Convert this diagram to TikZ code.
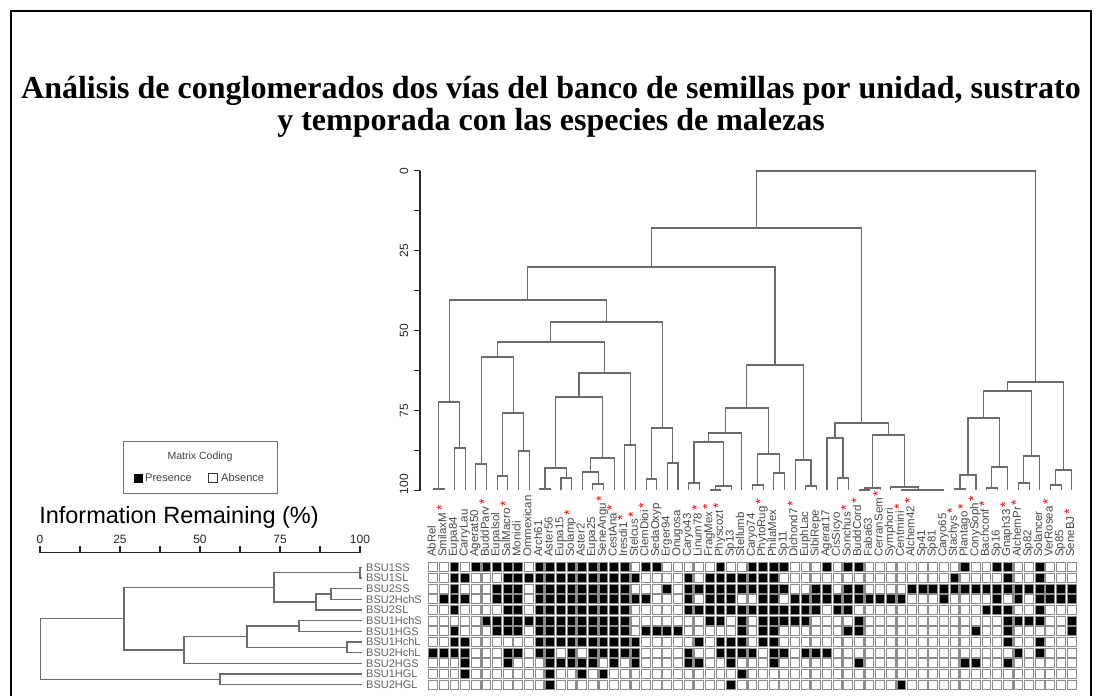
\documentclass[tikz,border=0pt]{standalone}
\usepackage{fontspec}
\setmainfont{Liberation Serif}
\setsansfont{Liberation Sans}
\usetikzlibrary{calc}

\tikzset{
    dend/.style={draw=black!58, line width=1.1pt},
    axisline/.style={draw=black!85, line width=1.2pt},
    cell/.style={draw=black!45, line width=1.1pt, fill=white},
    spp/.style={rotate=90, anchor=mid west, inner sep=0pt, text=black!72, font=\sffamily\fontsize{11.5}{12}\selectfont},
    rowlab/.style={anchor=west, inner sep=0pt, text=black!62, font=\sffamily\fontsize{11}{11}\selectfont},
    ticklab/.style={inner sep=0pt, text=black!85, font=\sffamily\fontsize{12}{12}\selectfont}
}

% bracket of a dendrogram: name, child, child, height
\newcommand{\mrg}[4]{%
    \path ($(#2)!0.5!(#3)$) coordinate (#1-m);
    \coordinate (#1) at (#1-m |- 0,#4);
    \draw[dend] (#2) |- (#1) -| (#3);
}
\newcommand{\hmrg}[4]{%
    \path ($(#2)!0.5!(#3)$) coordinate (#1-m);
    \coordinate (#1) at (#1-m -| #4,0);
    \draw[dend] (#2) -| (#1) |- (#3);
}
\newcommand{\redast}{\,\textcolor{red}{\fontsize{14}{14}\selectfont *}}

\begin{document}
\begin{tikzpicture}[x=1pt,y=-1pt]
    \useasboundingbox (0,0) rectangle (1101,696);
    % Frame
    \draw[line width=2pt] (11,700) -- (11,11) -- (1091,11) -- (1091,700);
    \node[font=\bfseries\fontsize{32}{32}\selectfont, align=center] (title) at (551,107)
        {Análisis de conglomerados dos vías del banco de semillas por unidad, sustrato\\y temporada con las especies de malezas};

    % Species axis
    \draw[axisline] (420,170.7) -- (420,490.7);
    \foreach \t in {0,...,8}
        \draw[axisline] (420,170.7+40*\t) -- (414,170.7+40*\t);
    \foreach \v/\y in {0/170.7,25/250.7,50/330.7,75/410.7,100/484}
        \node[ticklab, rotate=90] (sy\v) at (404,\y) {\v};

    % Species dendrogram
    \foreach \k in {1,...,61}
        \coordinate (L\k) at (422.68+10.64*\k,490);
    \mrg{a12}{L1}{L2}{489}
    \mrg{a34}{L3}{L4}{448}
    \mrg{A}{a12}{a34}{402}
    \mrg{b56}{L5}{L6}{464}
    \mrg{b78}{L7}{L8}{476}
    \mrg{b910}{L9}{L10}{451}
    \mrg{b710}{b78}{b910}{413}
    \mrg{B}{b56}{b710}{357}
    \mrg{c1112}{L11}{L12}{489}
    \mrg{c1314}{L13}{L14}{478}
    \mrg{c1114}{c1112}{c1314}{468}
    \mrg{c1617}{L16}{L17}{484}
    \mrg{c1517}{L15}{c1617}{472}
    \mrg{c1518}{c1517}{L18}{458}
    \mrg{c1118}{c1114}{c1518}{397}
    \mrg{c1920}{L19}{L20}{445}
    \mrg{C}{c1118}{c1920}{373}
    \mrg{BC}{B}{C}{342}
    \mrg{d2122}{L21}{L22}{479}
    \mrg{d2324}{L23}{L24}{463}
    \mrg{D}{d2122}{d2324}{428}
    \mrg{BCD}{BC}{D}{322}
    \mrg{AD}{A}{BCD}{300}
    \mrg{e2526}{L25}{L26}{483}
    \mrg{e2728}{L27}{L28}{490}
    \mrg{e2729}{e2728}{L29}{486}
    \mrg{e2529}{e2526}{e2729}{442}
    \mrg{e2530}{e2529}{L30}{433}
    \mrg{e3132}{L31}{L32}{485}
    \mrg{e3334}{L33}{L34}{473}
    \mrg{e3134}{e3132}{e3334}{454}
    \mrg{e2534}{e2530}{e3134}{408}
    \mrg{e3637}{L36}{L37}{486}
    \mrg{e3537}{L35}{e3637}{460}
    \mrg{E}{e2534}{e3537}{365}
    \mrg{AE}{AD}{E}{267}
    \mrg{f3940}{L39}{L40}{478}
    \mrg{f3840}{L38}{f3940}{438}
    \mrg{f4142}{L41}{L42}{490}
    \mrg{f4143}{f4142}{L43}{488}
    \mrg{f4647}{L46}{L47}{490}
    \mrg{f4648}{f4647}{L48}{490}
    \mrg{f4649}{f4648}{L49}{490}
    \mrg{f4549}{L45}{f4649}{490}
    \mrg{f4449}{L44}{f4549}{487}
    \mrg{f4149}{f4143}{f4449}{435}
    \mrg{F}{f3840}{f4149}{423}
    \mrg{AF}{AE}{F}{228}
    \mrg{g5051}{L50}{L51}{489}
    \mrg{g5052}{g5051}{L52}{475}
    \mrg{g5354}{L53}{L54}{488}
    \mrg{g5355}{g5354}{L55}{467}
    \mrg{g5055}{g5052}{g5355}{418}
    \mrg{g5657}{L56}{L57}{483}
    \mrg{g5658}{g5657}{L58}{456}
    \mrg{g5058}{g5055}{g5658}{391}
    \mrg{g5960}{L59}{L60}{485}
    \mrg{g5961}{g5960}{L61}{470}
    \mrg{G}{g5058}{g5961}{382}
    \mrg{root}{AF}{G}{171}

    % Species names
    \foreach \lab [count=\k] in {AbRel,SmilaxM\redast,Eupa84,CarryLau,Agerat50,BuddParv\redast,Eupalsol,SalMacro\redast,Monicli,Ommexican,
        Arch61,Aster56,Eupa15,Solamp\redast,Aster2,Eupa25,SeneAngu\redast,CestAna\redast,Iresdi1\redast,Stelcus\redast,
        ClemDioi\redast,SedaOxyp,Erger94,Onugosa,Caryo43,Linum78\redast,FragMex\redast,Physcozt\redast,Sp13,Stellumb,
        Caryo74,PhytoRug\redast,PhilaMex,Sp11,Dichond7\redast,EuphLac,SibiRepe,Agerat17,CisSicyo,Sonchus\redast,
        BuddCord\redast,Faba63,CerranSem\redast,Symphori,Centmini\redast,Alchem42\redast,Sp41,Sp81,Caryo65,Stachys\redast,
        Plantago\redast,ConySoph\redast,Bachconf\redast,Sp16,Gnaph33\redast,AlchemPr\redast,Sp82,Solancer,VerRosea\redast,Sp85,
        SeneBJ\redast}
        \node[spp] (sp\k) at (422.68+10.64*\k,557) {\lab};

    % Matrix
    \foreach \r in {1,...,12}
        \foreach \c in {1,...,61}
            \draw[cell] (418.16+10.64*\c,552.23+10.67*\r) rectangle ++(8.84,8.87);
    \foreach \r/\cols in {
        1/{3,5,6,7,8,9,11,12,13,14,15,16,17,18,19,21,22,28,31,32,33,34,38,40,41,51,54,55,58},
        2/{3,4,8,9,10,11,12,13,14,15,16,17,18,19,20,25,27,28,29,30,31,32,33,50,55,58},
        3/{3,7,8,9,11,12,13,14,15,16,17,18,19,23,25,26,27,28,29,30,31,32,33,34,37,38,40,41,46,47,48,49,50,51,52,53,54,55,56,57,58,59,60,61},
        4/{2,3,4,7,8,9,11,12,13,14,15,16,17,18,19,20,21,25,27,28,29,32,33,35,36,37,38,39,40,41,42,43,44,45,49,54,56,58,59,60,61},
        5/{3,8,9,11,12,13,14,15,16,17,18,19,25,26,27,28,29,30,31,32,33,34,35,36,37,39,40,53,54,55,58},
        6/{6,7,8,9,10,11,12,13,14,15,16,17,18,19,27,28,30,32,33,34,35,36,41,55,56,57,58,61},
        7/{3,7,8,9,11,12,13,14,15,16,17,18,19,21,22,23,24,30,32,33,40,41,52,55,61},
        8/{3,4,11,12,13,14,15,16,17,18,19,20,26,28,29,30,32,33,55,58},
        9/{1,2,3,4,8,9,11,12,14,16,17,18,19,20,25,28,29,30,31,33,34,36,37,38,56,58},
        10/{4,8,12,13,14,15,16,18,20,25,26,29,33,41,51,52,55},
        11/{4,12,15,17,30},
        12/{12,29,45}}
        \foreach \c in \cols
            \draw[cell, fill=black] (418.16+10.64*\c,552.23+10.67*\r) rectangle ++(8.84,8.87);

    % Sample names and dendrogram
    \foreach \lab [count=\r] in {BSU1SS,BSU1SL,BSU2SS,BSU2HchS,BSU2SL,BSU1HchS,BSU1HGS,BSU1HchL,BSU2HchL,BSU2HGS,BSU1HGL,BSU2HGL} {
        \node[rowlab] (row\r) at (366,556.67+10.67*\r) {\lab};
        \coordinate (R\r) at (362,556.67+10.67*\r);
    }
    \hmrg{r12}{R1}{R2}{360}
    \hmrg{r34}{R3}{R4}{331}
    \hmrg{r35}{r34}{R5}{316}
    \hmrg{r15}{r12}{r35}{274}
    \hmrg{r67}{R6}{R7}{299}
    \hmrg{r89}{R8}{R9}{347}
    \hmrg{r69}{r67}{r89}{247}
    \hmrg{r610}{r69}{R10}{184}
    \hmrg{r110}{r15}{r610}{124}
    \hmrg{r1112}{R11}{R12}{220}
    \hmrg{rall}{r110}{r1112}{40.7}

    % Information axis
    \draw[axisline] (40,552.7) -- (360,552.7);
    \foreach \t in {0,...,8}
        \draw[axisline] (40+40*\t,552.7) -- (40+40*\t,546);
    \foreach \v/\x in {0/40,25/120,50/200,75/280,100/360}
        \node[ticklab] (ix\v) at (\x,539) {\v};
    \node[inner sep=0pt, font=\sffamily\fontsize{23.5}{24}\selectfont] (infolab) at (179,517) {Information Remaining (\%)};

    % Legend
    \node[draw=black!55, line width=1pt, minimum width=154pt, minimum height=52pt] (legend) at (200,467) {};
    \node[font=\sffamily\fontsize{10.5}{11}\selectfont, text=black!75] (mcode) at (200,457) {Matrix Coding};
    \node[fill=black, minimum size=9pt, inner sep=0pt] (pres) at (138,478) {};
    \node[anchor=west, inner sep=0pt, font=\sffamily\fontsize{11}{11}\selectfont, text=black!75] (prestxt) at (145,478) {Presence};
    \node[draw=black!80, line width=0.8pt, minimum size=9pt, inner sep=0pt] (abs) at (213,478) {};
    \node[anchor=west, inner sep=0pt, font=\sffamily\fontsize{11}{11}\selectfont, text=black!75] (abstxt) at (221,478) {Absence};
\end{tikzpicture}
\end{document}
